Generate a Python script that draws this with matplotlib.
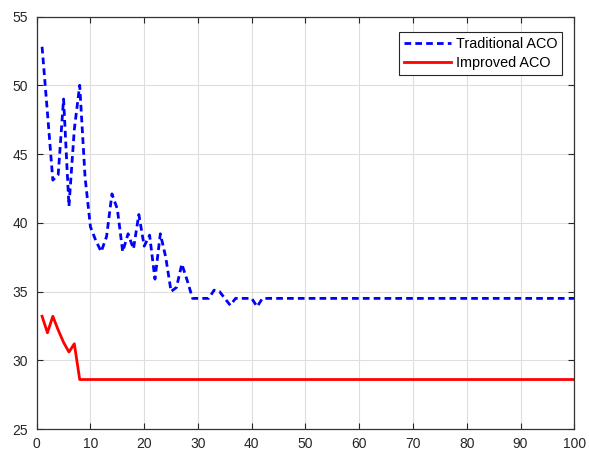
import numpy as np
import matplotlib
matplotlib.use('Agg')
import matplotlib.pyplot as plt

plt.rcParams['font.family'] = ['Liberation Sans', 'DejaVu Sans']

# iteration index and best path length per iteration
iterations = np.arange(1, 101)

traditional_aco = [
    52.8, 48.0, 43.1, 43.5, 49.0, 41.2, 46.8, 50.0, 43.3, 39.7,
    38.7, 37.9, 39.0, 42.1, 41.0, 37.9, 39.2, 38.1, 40.6, 38.3,
    39.1, 35.9, 39.2, 37.5, 35.0, 35.3, 37.0, 35.8, 34.5, 34.5,
    34.5, 34.5, 35.1, 35.0, 34.5, 34.0, 34.5, 34.5, 34.5, 34.5,
    33.9, 34.5, 34.5, 34.5, 34.5, 34.5, 34.5, 34.5, 34.5, 34.5,
    34.5, 34.5, 34.5, 34.5, 34.5, 34.5, 34.5, 34.5, 34.5, 34.5,
    34.5, 34.5, 34.5, 34.5, 34.5, 34.5, 34.5, 34.5, 34.5, 34.5,
    34.5, 34.5, 34.5, 34.5, 34.5, 34.5, 34.5, 34.5, 34.5, 34.5,
    34.5, 34.5, 34.5, 34.5, 34.5, 34.5, 34.5, 34.5, 34.5, 34.5,
    34.5, 34.5, 34.5, 34.5, 34.5, 34.5, 34.5, 34.5, 34.5, 34.5,
]

improved_aco = [
    33.2, 32.0, 33.2, 32.2, 31.3, 30.6, 31.2, 28.6, 28.6, 28.6,
    28.6, 28.6, 28.6, 28.6, 28.6, 28.6, 28.6, 28.6, 28.6, 28.6,
    28.6, 28.6, 28.6, 28.6, 28.6, 28.6, 28.6, 28.6, 28.6, 28.6,
    28.6, 28.6, 28.6, 28.6, 28.6, 28.6, 28.6, 28.6, 28.6, 28.6,
    28.6, 28.6, 28.6, 28.6, 28.6, 28.6, 28.6, 28.6, 28.6, 28.6,
    28.6, 28.6, 28.6, 28.6, 28.6, 28.6, 28.6, 28.6, 28.6, 28.6,
    28.6, 28.6, 28.6, 28.6, 28.6, 28.6, 28.6, 28.6, 28.6, 28.6,
    28.6, 28.6, 28.6, 28.6, 28.6, 28.6, 28.6, 28.6, 28.6, 28.6,
    28.6, 28.6, 28.6, 28.6, 28.6, 28.6, 28.6, 28.6, 28.6, 28.6,
    28.6, 28.6, 28.6, 28.6, 28.6, 28.6, 28.6, 28.6, 28.6, 28.6,
]

x_ticks = [0, 10, 20, 30, 40, 50, 60, 70, 80, 90, 100]
y_ticks = [25, 30, 35, 40, 45, 50, 55]

fig = plt.figure(figsize=(5.89, 4.55), dpi=100)
ax = fig.add_axes([0.0623, 0.0571, 0.9127, 0.9066])

ax.plot(iterations, traditional_aco, color='#0000ff', lw=2.0,
        linestyle=(0, (2.4, 1.5)), label='Traditional ACO')
ax.plot(iterations, improved_aco, color='#ff0000', lw=2.0, label='Improved ACO')

ax.set_xlim(0, 100)
ax.set_ylim(25, 55)
ax.set_xticks(x_ticks)
ax.set_yticks(y_ticks)

# matlab-ish look
ax.grid(True, color='#dedede', lw=0.8)
ax.set_axisbelow(True)
for s in ax.spines.values():
    s.set_color('#333333')
    s.set_linewidth(0.9)
ax.tick_params(direction='in', length=4, width=0.8, colors='#262626',
               top=True, right=True, labelsize=10, pad=6)

leg = ax.legend(loc='upper right', bbox_to_anchor=(0.978, 0.962), borderaxespad=0,
                fontsize=10.4, handlelength=3.25, handletextpad=0.35,
                labelspacing=0.3, borderpad=0.35, fancybox=False, framealpha=1)
leg.get_frame().set_edgecolor('#262626')
leg.get_frame().set_linewidth(0.8)

fig.savefig('out.png', dpi=100)
